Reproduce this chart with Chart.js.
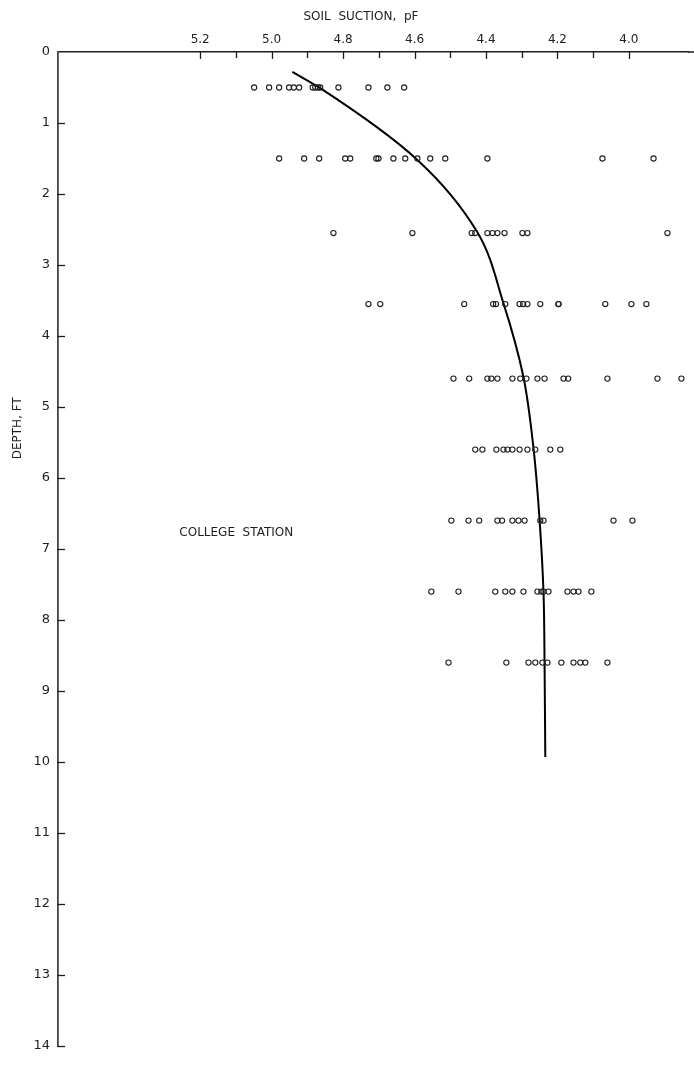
<!DOCTYPE html>
<html>
<head>
<meta charset="utf-8">
<script src="https://cdn.jsdelivr.net/npm/chart.js@4/dist/chart.umd.min.js"></script>
<style>
  body { margin: 0; background: #fff; overflow: hidden; }
  #wrap { width: 694px; height: 1069px; }
  canvas { display: block; }
</style>
</head>
<body>
<div id="wrap"><canvas id="soilChart" width="694" height="1069"></canvas></div>
<script>
// axis ticks
const suctionTicks = [5.2, 5.1, 5.0, 4.9, 4.8, 4.7, 4.6, 4.5, 4.4, 4.3, 4.2, 4.1, 4.0];
const depthTicks = [0, 1, 2, 3, 4, 5, 6, 7, 8, 9, 10, 11, 12, 13, 14];

// sampling depths (ft) of each row of measurements
const rowDepths = [0.5, 1.5, 2.55, 3.55, 4.6, 5.6, 6.6, 7.6, 8.6];

// measured soil suction, pF, one array per row
const row1 = [5.049, 5.007, 4.979, 4.951, 4.938, 4.923, 4.885, 4.878, 4.870, 4.864, 4.813, 4.729, 4.676, 4.629];
const row2 = [4.979, 4.909, 4.867, 4.794, 4.780, 4.707, 4.701, 4.659, 4.626, 4.592, 4.556, 4.514, 4.396, 4.074, 3.931];
const row3 = [4.827, 4.606, 4.440, 4.430, 4.396, 4.382, 4.368, 4.348, 4.298, 4.284, 3.892];
const row4 = [4.729, 4.696, 4.461, 4.380, 4.372, 4.346, 4.306, 4.296, 4.284, 4.248, 4.197, 4.197, 4.066, 3.993, 3.951];
const row5 = [4.491, 4.447, 4.396, 4.385, 4.368, 4.326, 4.304, 4.287, 4.256, 4.236, 4.183, 4.170, 4.060, 3.920, 3.853];
const row6 = [4.430, 4.410, 4.371, 4.351, 4.340, 4.326, 4.306, 4.284, 4.262, 4.220, 4.192];
const row7 = [4.497, 4.449, 4.419, 4.368, 4.355, 4.326, 4.309, 4.292, 4.248, 4.239, 4.043, 3.990];
const row8 = [4.553, 4.477, 4.374, 4.346, 4.326, 4.295, 4.256, 4.245, 4.239, 4.225, 4.172, 4.155, 4.141, 4.105];
const row9 = [4.505, 4.343, 4.281, 4.262, 4.242, 4.228, 4.189, 4.155, 4.136, 4.122, 4.060];

// fitted curve
const curveSuction = [4.942, 4.864, 4.592, 4.424, 4.351, 4.295, 4.267, 4.250, 4.239, 4.236, 4.234];
const curveDepth   = [0.28,  0.51,  1.52,  2.54,  3.54,  4.58,  5.58,  6.59,  7.61,  8.62,  9.93];

const rows = [row1, row2, row3, row4, row5, row6, row7, row8, row9];
const measured = [];
rows.forEach((r, i) => r.forEach(v => measured.push({ x: v, y: rowDepths[i] })));
const curve = curveSuction.map((v, i) => ({ x: v, y: curveDepth[i] }));

const ink = "#1e1e1e";
const font = "'DejaVu Sans', sans-serif";

// tick marks pointing into the plot, plus the free text labels
const decorations = {
  id: "decorations",
  afterDraw(chart) {
    const ctx = chart.ctx;
    const xs = chart.scales.x, ys = chart.scales.y;
    const top = chart.chartArea.top, left = chart.chartArea.left;
    ctx.save();
    ctx.strokeStyle = ink;
    // top axis runs on to the edge of the sheet
    ctx.lineWidth = 1.5;
    ctx.beginPath();
    ctx.moveTo(chart.chartArea.right - 1, top);
    ctx.lineTo(chart.width, top);
    ctx.stroke();
    ctx.lineWidth = 1.3;
    suctionTicks.forEach((t, i) => {
      const px = Math.round(xs.getPixelForValue(t)) + 0.5;
      ctx.beginPath();
      ctx.moveTo(px, top);
      ctx.lineTo(px, top + (i % 2 === 0 ? 7 : 6));
      ctx.stroke();
    });
    depthTicks.forEach(t => {
      if (t === 0) return;
      const py = Math.round(ys.getPixelForValue(t)) + 0.5;
      ctx.beginPath();
      ctx.moveTo(left - 1, py);
      ctx.lineTo(left + 7, py);
      ctx.stroke();
    });
    ctx.fillStyle = ink;
    ctx.textAlign = "center";
    ctx.textBaseline = "middle";
    ctx.font = "12px " + font;
    ctx.fillText("SOIL  SUCTION,  pF", xs.getPixelForValue(4.75), 17);
    ctx.fillText("COLLEGE  STATION", xs.getPixelForValue(5.099), ys.getPixelForValue(6.77));
    ctx.translate(18, ys.getPixelForValue(5.3));
    ctx.rotate(-Math.PI / 2);
    ctx.fillText("DEPTH, FT", 0, 0);
    ctx.restore();
  }
};

new Chart(document.getElementById("soilChart"), {
  type: "scatter",
  data: {
    datasets: [
      {
        label: "Measured",
        data: measured,
        pointRadius: 2.6,
        pointBorderWidth: 1.1,
        pointBorderColor: ink,
        pointBackgroundColor: "rgba(255,255,255,0)",
        showLine: false
      },
      {
        label: "Curve",
        data: curve,
        indexAxis: "y",
        showLine: true,
        borderColor: "#000",
        borderWidth: 2,
        cubicInterpolationMode: "monotone",
        pointRadius: 0,
        fill: false
      }
    ]
  },
  options: {
    responsive: false,
    animation: false,
    layout: { padding: { left: 0, right: 0, top: 0, bottom: 23 } },
    plugins: {
      legend: { display: false },
      tooltip: { enabled: false }
    },
    scales: {
      x: {
        type: "linear",
        position: "top",
        reverse: true,
        min: 3.832,
        max: 5.598,
        afterBuildTicks: s => { s.ticks = suctionTicks.map(v => ({ value: v })); },
        afterFit: s => { s.height = 52; },
        grid: { display: false, drawTicks: false },
        border: { display: true, color: ink, width: 1.5 },
        ticks: {
          autoSkip: false,
          maxRotation: 0,
          padding: 5,
          color: ink,
          font: { family: font, size: 12 },
          callback: v => (Math.round(v * 10) % 2 === 0 ? v.toFixed(1) : "")
        }
      },
      y: {
        type: "linear",
        reverse: true,
        min: 0,
        max: 14,
        afterBuildTicks: s => { s.ticks = depthTicks.map(v => ({ value: v })); },
        afterFit: s => { s.width = 58; },
        grid: { display: false, drawTicks: false },
        border: { display: true, color: "#444", width: 1.8 },
        ticks: {
          autoSkip: false,
          padding: 8,
          color: ink,
          font: { family: font, size: 13 }
        }
      }
    }
  },
  plugins: [decorations]
});
</script>
</body>
</html>
